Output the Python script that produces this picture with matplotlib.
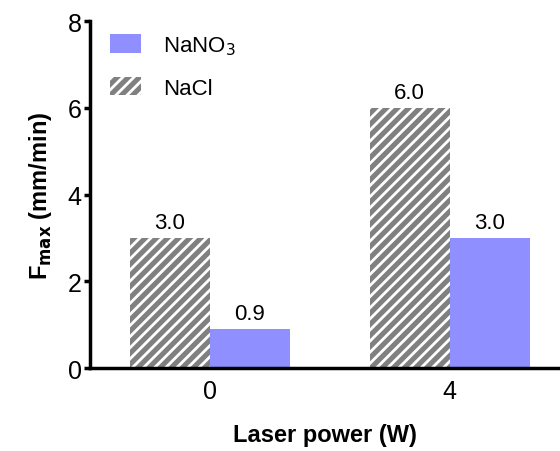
import numpy as np
import matplotlib.pyplot as plt

plt.rcParams['font.family'] = ['Liberation Sans', 'DejaVu Sans']
plt.rcParams['hatch.color'] = 'white'
plt.rcParams['hatch.linewidth'] = 2.0

powers = ['0', '4']
nacl = [3.0, 6.0]
nano3 = [0.9, 3.0]

fig = plt.figure(figsize=(5.6, 4.52), dpi=100)
ax = fig.add_axes([0.1607, 0.1836, 0.8393, 0.7677])

x = np.arange(len(powers))
w = 1 / 3
b_cl = ax.bar(x - w / 2, nacl, w, color='#808080', hatch='///', edgecolor='white',
              linewidth=0, label='NaCl', zorder=2)
b_no = ax.bar(x + w / 2, nano3, w, color='#8f8fff', label='NaNO$_3$', zorder=2)

for xi, v in zip(x - w / 2, nacl):
    ax.text(xi, v + 0.12, f'{v:.1f}', ha='center', va='bottom', fontsize=16)
for xi, v in zip(x + w / 2, nano3):
    ax.text(xi, v + 0.12, f'{v:.1f}', ha='center', va='bottom', fontsize=16)

ax.set_xlim(-0.5, 1.46)
ax.set_ylim(0, 8)
ax.set_xticks(x)
ax.set_xticklabels(powers)
ax.set_yticks([0, 2, 4, 6, 8])
ax.tick_params(axis='y', direction='out', length=4, width=2.5, labelsize=18, pad=2)
ax.tick_params(axis='x', direction='in', length=5, width=2.5, labelsize=18, pad=8)
for s in ['top', 'right']:
    ax.spines[s].set_visible(False)
for s in ['left', 'bottom']:
    ax.spines[s].set_linewidth(2.5)

ax.set_xlabel('Laser power (W)', fontsize=17, fontweight='bold', labelpad=14)
ax.set_ylabel(r'F$_\mathbf{max}$ (mm/min)', fontsize=17, fontweight='bold', labelpad=10)

ax.legend(handles=[b_no, b_cl], loc='upper left', frameon=False, fontsize=16,
          bbox_to_anchor=(0.0, 1.02), handlelength=1.4, handleheight=0.9,
          handletextpad=1.0, labelspacing=0.9)

fig.savefig('out.png', dpi=100)
